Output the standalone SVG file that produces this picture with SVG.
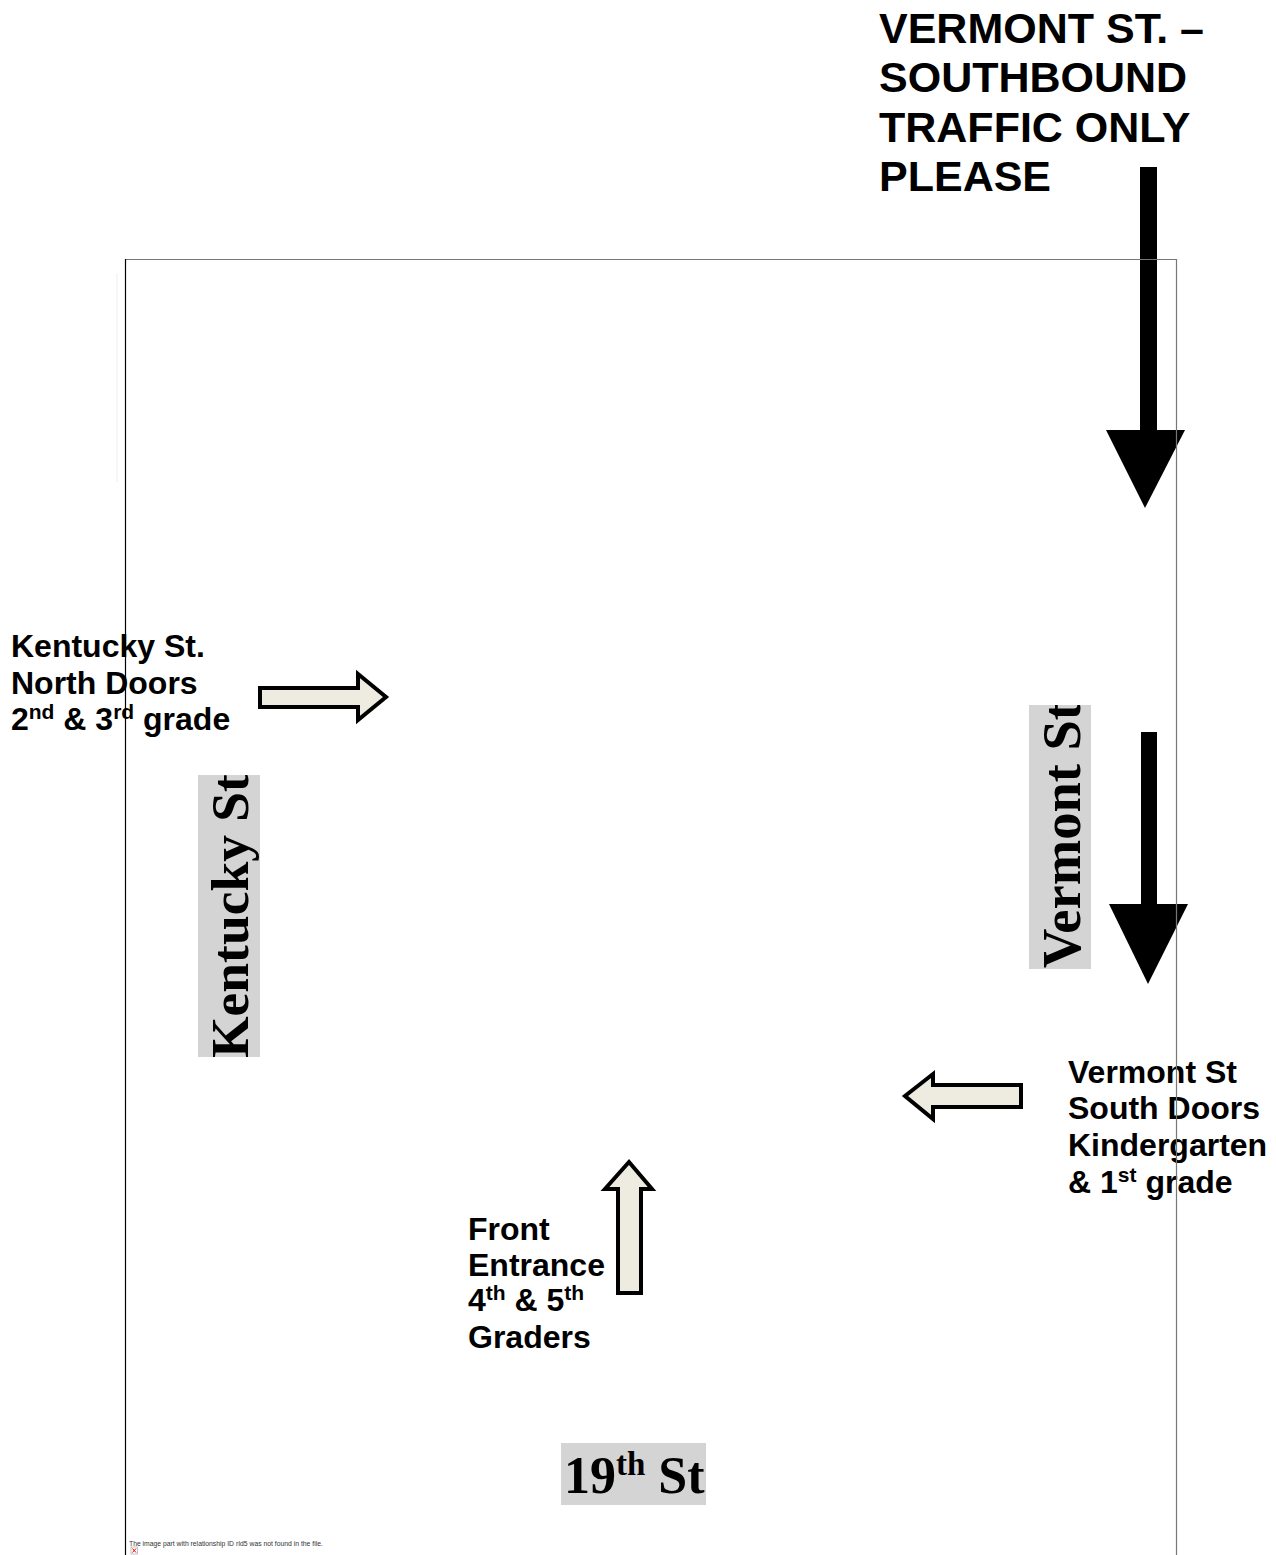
<svg xmlns="http://www.w3.org/2000/svg" width="1276" height="1555" viewBox="0 0 1276 1555">
<style>
.lbl{font-family:"Liberation Sans",Arial,sans-serif;font-weight:bold;font-size:32px;fill:#000}
.big{font-family:"Liberation Sans",Arial,sans-serif;font-weight:bold;font-size:43px;fill:#000}
.street{font-family:"Liberation Serif","Times New Roman",serif;font-weight:bold;font-size:54.5px;fill:#000}
.box{fill:#d4d4d4}
.block{fill:#EEECE1;stroke:#000;stroke-width:4;stroke-linejoin:miter}
.solid{fill:#000}
</style>
<defs>
<clipPath id="clipV"><rect x="1029" y="705" width="62" height="264"/></clipPath>
<clipPath id="clipK"><rect x="198" y="775" width="62" height="282"/></clipPath>
</defs>
<rect width="1276" height="1555" fill="#fff"/>
<line x1="117" y1="273" x2="117" y2="482" stroke="#eeeeee" stroke-width="1"/>

<g id="title">
<text class="big" x="879" y="43">VERMONT ST. –</text>
<text class="big" x="879" y="92">SOUTHBOUND</text>
<text class="big" x="879" y="142">TRAFFIC ONLY</text>
<text class="big" x="879" y="191">PLEASE</text>
</g>

<g id="kentucky-street">
<rect class="box" x="198" y="775" width="62" height="282"/>
<g clip-path="url(#clipK)"><text class="street" style="font-size:53.5px" transform="translate(248,1058) rotate(-90)">Kentucky St</text></g>
</g>

<g id="vermont-street">
<rect class="box" x="1029" y="705" width="62" height="264"/>
<g clip-path="url(#clipV)"><text class="street" transform="translate(1080,968) rotate(-90)">Vermont St</text></g>
</g>

<g id="nineteenth-street">
<rect class="box" x="561" y="1443" width="145" height="62"/>
<text class="street" x="564" y="1493" style="font-size:52px">19<tspan style="font-size:33px" dy="-18">th</tspan><tspan dy="18"> St</tspan></text>
</g>

<g id="kentucky-doors">
<text class="lbl" x="11" y="657">Kentucky St.</text>
<text class="lbl" x="11" y="694">North Doors</text>
<text class="lbl" x="11" y="730">2<tspan style="font-size:21px" dy="-11">nd</tspan><tspan dy="11"> &amp; 3</tspan><tspan style="font-size:21px" dy="-11">rd</tspan><tspan dy="11"> grade</tspan></text>
</g>

<g id="vermont-doors">
<text class="lbl" x="1068" y="1083">Vermont St</text>
<text class="lbl" x="1068" y="1119">South Doors</text>
<text class="lbl" x="1068" y="1156">Kindergarten</text>
<text class="lbl" x="1068" y="1193">&amp; 1<tspan style="font-size:21px" dy="-11">st</tspan><tspan dy="11"> grade</tspan></text>
</g>

<g id="front-entrance">
<text class="lbl" x="468" y="1240">Front</text>
<text class="lbl" x="468" y="1276">Entrance</text>
<text class="lbl" x="468" y="1311">4<tspan style="font-size:21px" dy="-11">th</tspan><tspan dy="11"> &amp; 5</tspan><tspan style="font-size:21px" dy="-11">th</tspan></text>
<text class="lbl" x="468" y="1348">Graders</text>
</g>

<g id="connectors">
<rect class="solid" x="1140" y="167" width="17" height="266"/>
<polygon class="solid" points="1106,430 1185,430 1145,508"/>
<rect class="solid" x="1141" y="732" width="16" height="175"/>
<polygon class="solid" points="1109,904 1188,904 1148,984"/>
<polygon class="block" points="260,688 358,688 358,674 386,697 358,720 358,707 260,707"/>
<polygon class="block" points="1021,1085 933,1085 933,1074 905,1096 933,1119 933,1107 1021,1107"/>
<polygon class="block" points="618,1293 618,1189 605,1189 629,1162 652,1189 641,1189 641,1293"/>
</g>

<g id="frame">
<line x1="125" y1="259.5" x2="1177" y2="259.5" stroke="#777" stroke-width="1.2"/>
<line x1="125.5" y1="259" x2="125.5" y2="1555" stroke="#000" stroke-width="1.2"/>
<line x1="1176.5" y1="259" x2="1176.5" y2="1555" stroke="#777" stroke-width="1.2"/>
</g>

<g id="missing-image">
<rect x="131" y="1547" width="6.5" height="7" fill="#fff" stroke="#999" stroke-width="0.6"/>
<path d="M132.5,1548.5 L136,1552.5 M136,1548.5 L132.5,1552.5" stroke="#e00" stroke-width="1"/>
<text x="129" y="1546" style="font-family:'Liberation Sans',Arial,sans-serif;font-size:6.8px;fill:#333">The image part with relationship ID rId5 was not found in the file.</text>
</g>
</svg>
